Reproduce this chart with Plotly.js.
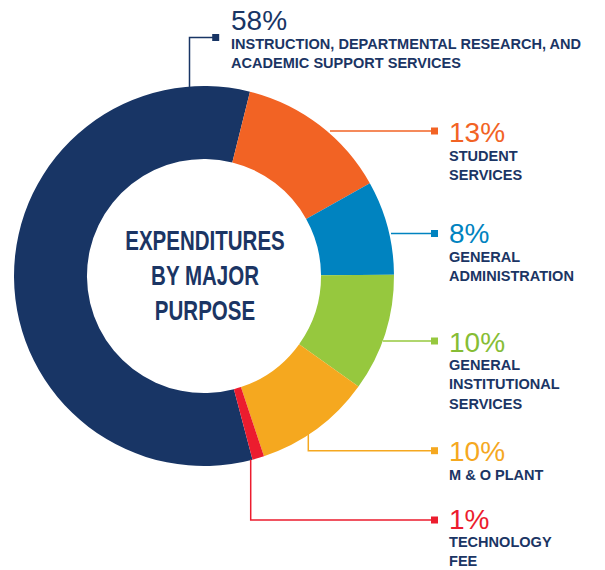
<!DOCTYPE html>
<html>
<head>
<meta charset="utf-8">
<script src="https://cdn.plot.ly/plotly-3.0.1.min.js"></script>
<style>
html,body{margin:0;padding:0;background:#fff;}
#chart{width:605px;height:570px;}
</style>
</head>
<body>
<div id="chart"></div>
<script>
// ---- data ----
var categories = [
  "INSTRUCTION, DEPARTMENTAL RESEARCH, AND<br>ACADEMIC SUPPORT SERVICES",
  "STUDENT<br>SERVICES",
  "GENERAL<br>ADMINISTRATION",
  "GENERAL<br>INSTITUTIONAL<br>SERVICES",
  "M & O PLANT",
  "TECHNOLOGY<br>FEE"
];
var values = [58, 13, 8, 10, 10, 1];
var pctLabels = ["58%", "13%", "8%", "10%", "10%", "1%"];
var centerTitle = "EXPENDITURES<br>BY MAJOR<br>PURPOSE";

// ---- styles / layout ----
var colors = ["#183565", "#f26324", "#0083c0", "#96c83e", "#f5a81f", "#ec1c2e"];
var pctColors = ["#183565", "#f26324", "#0083c0", "#86bd35", "#f5a81f", "#ec1c2e"];
var navyText = "#1b3564";
var W = 605, H = 570;
var cx = 204, cy = 276, R = 190;
function px(x){ return x / W; }
function py(y){ return 1 - y / H; }

// label placement (pixels): percent text anchor, label block centre, leader path (ends at square)
var pctPos = [[230,20],[448,132],[448,233.5],[448,342],[448,451],[448,519]];
var labPos = [[230,54],[448,165],[448,266.5],[448,383.5],[448,474.5],[448,551.5]];
var leaders = [
  [[189.5,88],[189.5,37.5],[215.7,37.5]],
  [[330,131],[434.5,131]],
  [[391,233.5],[434.5,233.5]],
  [[383,341],[434.5,341]],
  [[308.3,433],[308.3,450.7],[434.5,450.7]],
  [[250.7,459.5],[250.7,520],[434.5,520]]
];

var trace = {
  type: "pie",
  values: values,
  labels: categories,
  marker: {colors: colors, line: {width: 0}},
  hole: 0.616,
  sort: false,
  direction: "clockwise",
  rotation: 14 - values[0] * 3.6,
  textinfo: "none",
  hoverinfo: "label+percent",
  domain: {x: [px(cx - R), px(cx + R)], y: [py(cy + R), py(cy - R)]}
};

var annotations = [];
var shapes = [];
var squeeze = []; // [annotation index, scaleX, origin]
for (var i = 0; i < categories.length; i++) {
  annotations.push({
    xref: "paper", yref: "paper", x: px(pctPos[i][0]), y: py(pctPos[i][1]),
    xanchor: "left", yanchor: "middle", showarrow: false, borderpad: 0,
    text: pctLabels[i],
    font: {family: "Liberation Sans, Arial, sans-serif", size: 28, color: pctColors[i]}
  });
  annotations.push({
    xref: "paper", yref: "paper", x: px(labPos[i][0]), y: py(labPos[i][1]),
    xanchor: "left", yanchor: "middle", align: "left", showarrow: false, borderpad: 0,
    text: "<b>" + categories[i].split("<br>").join("</b><br><b>") + "</b>",
    font: {family: "Liberation Sans, Arial, sans-serif", size: 15, color: navyText}
  });
  squeeze.push([annotations.length - 1, 0.97, "left center"]);
  var pts = leaders[i];
  var d = "M " + px(pts[0][0]) + "," + py(pts[0][1]);
  for (var k = 1; k < pts.length; k++) d += " L " + px(pts[k][0]) + "," + py(pts[k][1]);
  shapes.push({type: "path", xref: "paper", yref: "paper", path: d,
    line: {color: colors[i], width: 1.5}});
  var e = pts[pts.length - 1];
  shapes.push({type: "rect", xref: "paper", yref: "paper",
    x0: px(e[0] - 3.5), x1: px(e[0] + 3.5), y0: py(e[1] + 3.5), y1: py(e[1] - 3.5),
    fillcolor: colors[i], line: {width: 0}});
}
annotations.push({
  xref: "paper", yref: "paper", x: px(cx + 1), y: py(cy + 0),
  xanchor: "center", yanchor: "middle", align: "center", showarrow: false,
  text: "<b>" + centerTitle.split("<br>").join("</b><br><b>") + "</b>",
  font: {family: "Liberation Sans, Arial, sans-serif", size: 27, color: navyText}
});
squeeze.push([annotations.length - 1, 0.76, "center"]);

var layout = {
  width: W, height: H,
  margin: {l: 0, r: 0, t: 0, b: 0},
  paper_bgcolor: "#ffffff",
  showlegend: false,
  annotations: annotations,
  shapes: shapes
};

Plotly.newPlot("chart", [trace], layout, {displayModeBar: false, staticPlot: true}).then(function(gd){
  var texts = gd.querySelectorAll(".annotation-text");
  squeeze.forEach(function(s){
    var t = texts[s[0]];
    if (!t) return;
    t.style.transformBox = "fill-box";
    t.style.transformOrigin = s[2];
    t.style.transform = "scaleX(" + s[1] + ")";
  });
});
</script>
</body>
</html>
